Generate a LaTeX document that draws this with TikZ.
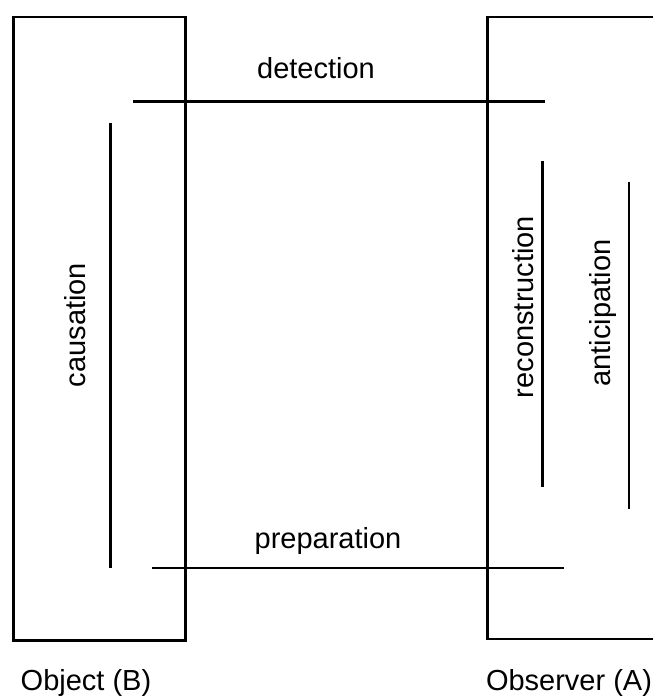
\documentclass[tikz,border=0pt]{standalone}
\usepackage{fontspec}
\setmainfont{Liberation Sans}
\begin{document}
\begin{tikzpicture}[x=1pt,y=-1pt,
  ln/.style={line width=2.2pt, black},
  lbl/.style={font=\fontsize{29}{34}\selectfont, inner sep=0pt, anchor=base},
  vlbl/.style={lbl, rotate=90}]
\useasboundingbox (0,0) rectangle (652,700);
% left box (Object)
\node[draw, line width=2.2pt, minimum width=172pt, minimum height=623pt, inner sep=0pt, anchor=north west] (objbox) at (12.3,16.3) {};
% right box (Observer), open to the right edge
\coordinate (obsTR) at (653,16.8);
\coordinate (obsTL) at (487.5,16.8);
\coordinate (obsBL) at (487.5,639);
\coordinate (obsBR) at (653,639);
\draw[ln] (obsTR) -- (obsTL) -- (obsBL) -- (obsBR);
% detection
\coordinate (detA) at (133,101.5);
\coordinate (detB) at (545,101.5);
\draw[ln] (detA) -- (detB);
\node[lbl] (detlbl) at (316,79) {detection};
% preparation
\coordinate (prepA) at (152,568);
\coordinate (prepB) at (564,568);
\draw[ln] (prepA) -- (prepB);
\node[lbl] (preplbl) at (328,548) {preparation};
% causation
\coordinate (causA) at (110.5,123);
\coordinate (causB) at (110.5,568);
\draw[ln] (causA) -- (causB);
\node[vlbl] (causlbl) at (85,325) {causation};
% reconstruction
\coordinate (recA) at (542.5,161);
\coordinate (recB) at (542.5,487);
\draw[ln] (recA) -- (recB);
\node[vlbl] (reclbl) at (533,307) {reconstruction};
% anticipation
\coordinate (antA) at (629,182);
\coordinate (antB) at (629,509);
\draw[ln] (antA) -- (antB);
\node[vlbl] (antlbl) at (610,313) {anticipation};
% bottom labels
\node[lbl] (objlbl) at (86,690) {Object (B)};
\node[lbl] (obslbl) at (569,690) {Observer (A)};
\end{tikzpicture}
\end{document}
